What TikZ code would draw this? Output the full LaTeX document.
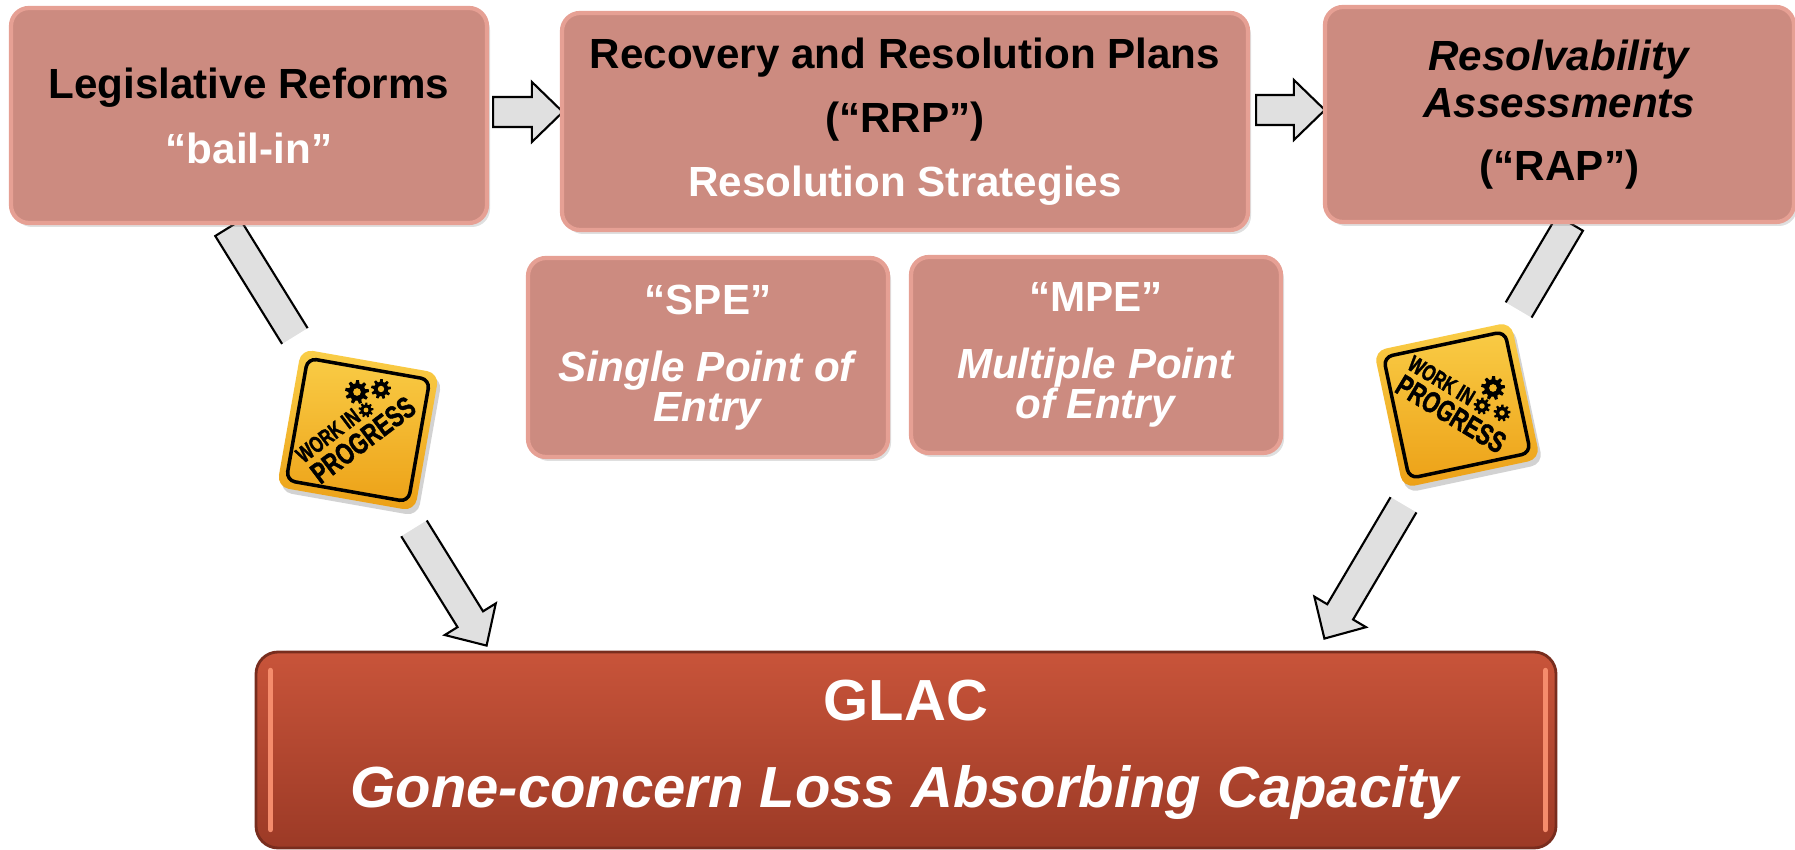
\documentclass[tikz,border=0pt]{standalone}
\usepackage{fontspec}
\setmainfont{Liberation Sans}
\newfontfamily\wipfont{Liberation Sans Bold}[FakeStretch=0.72, FakeBold=1.5]
\usetikzlibrary{
	calc,
	positioning,
	shadows,
	backgrounds % arrows behind boxes
}
\definecolor{salmon}{RGB}{204,139,128}
\definecolor{salmonedge}{RGB}{230,160,148}
\definecolor{arrowfill}{RGB}{224,224,224}
\definecolor{glactop}{RGB}{200,84,58}
\definecolor{glacbot}{RGB}{156,58,38}
\definecolor{glacedge}{RGB}{120,45,30}
\definecolor{glaclight}{RGB}{245,140,108}
\definecolor{wiplight}{RGB}{250,206,72}
\definecolor{wipdark}{RGB}{236,160,22}
\definecolor{wipmid}{RGB}{244,184,40}
\tikzset{
  % arrow
	cstarrow/.style   ={fill=arrowfill, draw=black, line width=0.6pt, line join=miter},
  % box
	cstbox/.style     ={fill=salmon, draw=salmonedge, line width=1.2pt, rounded corners=0.18cm,
	                    align=center, inner sep=0pt, text=black,
	                    drop shadow={shadow xshift=0.03cm, shadow yshift=-0.04cm, opacity=0.25}},
	cstglac/.style    ={top color=glactop, bottom color=glacbot, draw=glacedge, line width=0.8pt,
	                    rounded corners=0.22cm, align=center, inner sep=0pt, text=white},
	cstlight/.style   ={glaclight, line width=1.6pt, line cap=round},
  % work in progress sign
	cstwipe/.style    ={fill=white, minimum size=2.26cm, inner sep=0pt},
	cstsign/.style    ={top color=wiplight, bottom color=wipdark, minimum size=1.40cm, inner sep=0pt,
	                    rounded corners=0.12cm,
	                    drop shadow={shadow xshift=0.03cm, shadow yshift=-0.05cm, opacity=0.35}},
	cstsignb/.style   ={draw=black, line width=1pt, minimum size=1.24cm, inner sep=0pt, rounded corners=0.09cm},
	cstwip/.style     ={inner sep=0pt, text=black},
	pics/cstgear/.style={code={
		\fill[black] (0:1) \foreach \a in {0,40,...,320}{ -- (\a:1) -- ({\a+14}:1) -- ({\a+20}:0.72) -- ({\a+34}:0.72)} -- cycle;
		\fill[wipmid] (0,0) circle (0.32);
	}}
}
% block arrow from #1 to #2
\newcommand{\cstblock}[2]{%
	\coordinate (hb) at ($(#2)!0.31cm!(#1)$);
	\draw[cstarrow] ($(#1)!0.15cm!-90:(#2)$) -- ($(hb)!0.15cm!-90:(#2)$) -- ($(hb)!0.3cm!-90:(#2)$)
		-- (#2) -- ($(hb)!0.3cm!90:(#2)$) -- ($(hb)!0.15cm!90:(#2)$) -- ($(#1)!0.15cm!90:(#2)$) -- cycle;
}

\begin{document}
\begin{tikzpicture}
	\useasboundingbox (0,0) rectangle (17.95,-8.5);
	% boxes
	\node[cstbox, minimum width=4.76cm, minimum height=2.15cm, font=\bfseries\fontsize{12}{18.5}\selectfont]
		(reform) at (2.49,-1.155) {Legislative Reforms\\\textcolor{white}{“bail-in”}};
	\node[cstbox, minimum width=6.86cm, minimum height=2.17cm, font=\bfseries\fontsize{12}{18.2}\selectfont]
		(rrp) at (9.05,-1.215) {Recovery and Resolution Plans\\(“RRP”)\\\textcolor{white}{Resolution Strategies}};
	\node[cstbox, minimum width=4.69cm, minimum height=2.15cm, font=\bfseries\fontsize{12}{13.4}\selectfont]
		(rap) at (15.595,-1.145) {\textit{Resolvability}\\\textit{Assessments}\\[4.5pt](“RAP”)};
	\node[cstbox, minimum width=3.60cm, minimum height=1.99cm, text=white, font=\bfseries\fontsize{12}{11.4}\selectfont]
		(spe) at (7.08,-3.575) {“SPE”\\[7.6pt]\textit{Single Point of}\\\textit{Entry}};
	\node[cstbox, minimum width=3.70cm, minimum height=1.96cm, text=white, font=\bfseries\fontsize{12}{11.4}\selectfont]
		(mpe) at (10.96,-3.55) {“MPE”\\[7.6pt]\textit{Multiple Point}\\\textit{of Entry}};
	\node[cstglac, minimum width=13.0cm, minimum height=1.96cm, font=\bfseries\fontsize{16.5}{24.7}\selectfont]
		(glac) at (9.06,-7.50) {GLAC\\\textit{Gone-concern Loss Absorbing Capacity}};
	\draw[cstlight] ([shift={(0.16,-0.2)}]glac.north west) -- ([shift={(0.16,0.2)}]glac.south west);
	\draw[cstlight] ([shift={(-0.12,-0.2)}]glac.north east) -- ([shift={(-0.12,0.2)}]glac.south east);
	% arrows
	\coordinate (ab0) at ([xshift=0.04cm,yshift=0.035cm]reform.east);
	\coordinate (ab1) at ($(ab0 -| rrp.west)+(0.03,0)$);
	\coordinate (bc0) at ([xshift=0.06cm,yshift=0.115cm]rrp.east);
	\coordinate (bc1) at ($(bc0 -| rap.west)+(0.02,0)$);
	\coordinate (lt) at ([xshift=-0.21cm,yshift=-0.03cm]reform.south);
	\coordinate (lh) at ([xshift=2.32cm,yshift=0.05cm]glac.north west);
	\coordinate (rt) at ([xshift=0.105cm,yshift=0.01cm]rap.south);
	\coordinate (rh) at ([xshift=-2.33cm,yshift=0.12cm]glac.north east);
	\begin{scope}[on background layer]
		\cstblock{ab0}{ab1}
		\cstblock{bc0}{bc1}
		\cstblock{lt}{lh}
		\cstblock{rt}{rh}
	\end{scope}
	% work in progress
	\node[cstwipe, rotate=31.7] (wipeL) at (3.58,-4.30) {};
	\node[cstwipe, rotate=59.5] (wipeR) at (14.57,-4.05) {};
	\node[cstsign, rotate=-10] (wipL) at (3.58,-4.30) {};
	\node[cstsignb, rotate=-10] at (wipL) {};
	\node[cstwip, rotate=37, font=\wipfont\fontsize{6.5}{7}\selectfont] (wipLw) at ($(wipL)+(-0.30,-0.056)$) {WORK IN};
	\node[cstwip, rotate=37, font=\wipfont\fontsize{8.5}{9}\selectfont] (wipLp) at ($(wipL)+(0.05,-0.10)$) {PROGRESS};
	\pic[scale=0.12] at ($(wipL)+(-0.01,0.38)$) {cstgear};
	\pic[scale=0.10] at ($(wipL)+(0.23,0.41)$) {cstgear};
	\pic[scale=0.075] at ($(wipL)+(0.08,0.20)$) {cstgear};
	\node[cstsign, rotate=12] (wipR) at (14.57,-4.05) {};
	\node[cstsignb, rotate=12] at (wipR) {};
	\node[cstwip, rotate=-31, font=\wipfont\fontsize{6.5}{7}\selectfont] (wipRw) at ($(wipR)+(-0.155,0.246)$) {WORK IN};
	\node[cstwip, rotate=-31, font=\wipfont\fontsize{8.5}{9}\selectfont] (wipRp) at ($(wipR)+(-0.06,-0.09)$) {PROGRESS};
	\pic[scale=0.12] at ($(wipR)+(0.36,0.17)$) {cstgear};
	\pic[scale=0.085] at ($(wipR)+(0.25,-0.01)$) {cstgear};
	\pic[scale=0.085] at ($(wipR)+(0.45,-0.08)$) {cstgear};
\end{tikzpicture}
\end{document}
